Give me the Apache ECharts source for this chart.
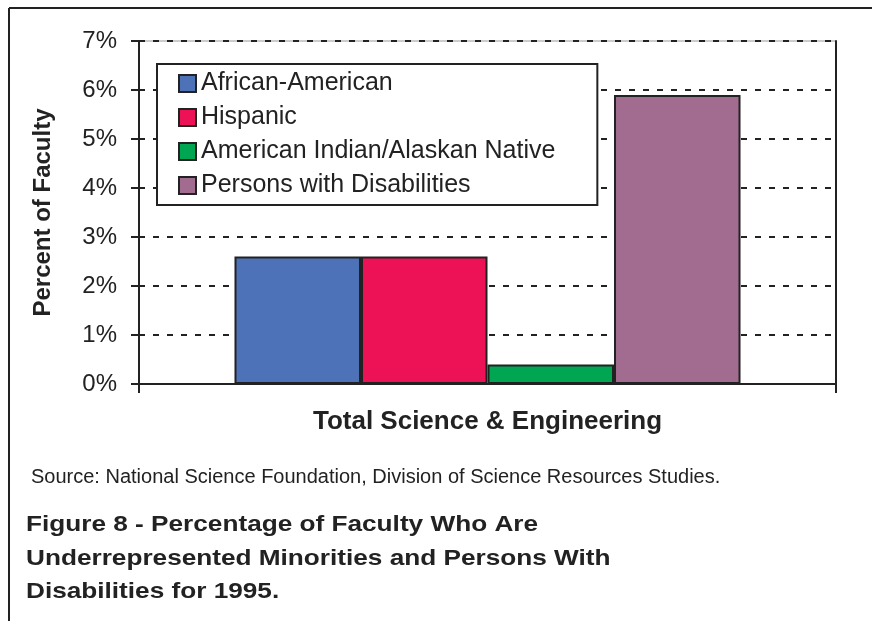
<!DOCTYPE html>
<html>
<head>
<meta charset="utf-8">
<script src="https://cdn.jsdelivr.net/npm/echarts@6/dist/echarts.min.js"></script>
<style>
  html, body { margin: 0; padding: 0; background: #fff; }
  #chart { width: 872px; height: 621px; }
</style>
</head>
<body>
<div id="chart"></div>
<script>
// ---- data ----
const categories = ['Total Science & Engineering'];
const seriesNames = ['African-American', 'Hispanic', 'American Indian/Alaskan Native', 'Persons with Disabilities'];
const africanAmerican = [2.6];
const hispanic = [2.6];
const americanIndian = [0.4];
const disabilities = [5.9];
const yTicks = [0, 1, 2, 3, 4, 5, 6, 7];
const sourceText = 'Source: National Science Foundation, Division of Science Resources Studies.';
const captionLines = [
  'Figure 8 - Percentage of Faculty Who Are',
  'Underrepresented Minorities and Persons With',
  'Disabilities for 1995.'
];
const yAxisTitle = 'Percent of Faculty';

// ---- styling ----
const colors = ['#4E72B8', '#ED1256', '#00A651', '#A26C91'];
const seriesValues = [africanAmerican, hispanic, americanIndian, disabilities];
const ink = '#222';
const font = 'Arial, "Liberation Sans", Helvetica, sans-serif';

const chart = echarts.init(document.getElementById('chart'), null, { renderer: 'canvas' });

const series = seriesNames.map((name, i) => ({
  name: name,
  type: 'bar',
  data: seriesValues[i],
  barGap: '0%',
  barCategoryGap: '27.4%',
  itemStyle: { color: colors[i], borderColor: ink, borderWidth: 2 },
  emphasis: { disabled: true },
  animation: false
}));

const graphics = [
  { type: 'line', shape: { x1: 9, y1: 8, x2: 872, y2: 8 }, style: { stroke: ink, lineWidth: 2 } },
  { type: 'line', shape: { x1: 9, y1: 8, x2: 9, y2: 621 }, style: { stroke: ink, lineWidth: 2 } },
  { type: 'text', left: 31, top: 467, style: { text: sourceText, font: '20px ' + font, fill: ink } }
];
captionLines.forEach((line, i) => {
  graphics.push({ type: 'text', x: 26, y: 514 + i * 33.5, scaleX: 1.19, style: { text: line, font: 'bold 22px ' + font, fill: ink, textBaseline: 'top' } });
});

chart.setOption({
  backgroundColor: '#fff',
  animation: false,
  grid: { left: 139, top: 41, width: 697, height: 343, show: true, borderColor: '#999', borderWidth: 1, backgroundColor: 'transparent' },
  legend: {
    orient: 'vertical',
    left: 157,
    top: 64,
    itemWidth: 17,
    itemHeight: 17,
    itemGap: 9,
    padding: [7, 42, 7, 21],
    backgroundColor: '#fff',
    borderColor: ink,
    borderWidth: 2,
    borderRadius: 0,
    icon: 'rect',
    selectedMode: false,
    textStyle: { fontFamily: font, fontSize: 25, color: ink },
    data: seriesNames
  },
  xAxis: [{
    type: 'category',
    data: categories,
    axisLine: { lineStyle: { color: ink, width: 2 } },
    axisTick: { show: true, length: 9, lineStyle: { color: ink, width: 2 } },
    axisLabel: { margin: 25, fontFamily: font, fontSize: 26, fontWeight: 'bold', color: ink }
  }],
  yAxis: [{
    type: 'value',
    min: 0,
    max: 7,
    interval: 1,
    name: yAxisTitle,
    nameLocation: 'middle',
    nameGap: 84,
    nameTextStyle: { fontFamily: font, fontSize: 24, fontWeight: 'bold', color: ink },
    axisLine: { show: true, lineStyle: { color: ink, width: 2 } },
    axisTick: { show: true, length: 8, lineStyle: { color: ink, width: 2 } },
    axisLabel: { margin: 22, fontFamily: font, fontSize: 24, color: ink, formatter: v => (yTicks.includes(v) ? v + '%' : '') },
    splitLine: { show: true, lineStyle: { color: ink, width: 2, type: [6, 8] } }
  }, {
    type: 'value',
    position: 'right',
    min: 0,
    max: 7,
    interval: 1,
    axisLine: { show: true, lineStyle: { color: ink, width: 2 } },
    axisTick: { show: false },
    axisLabel: { show: false },
    splitLine: { show: false }
  }],
  series: series,
  graphic: graphics
});
</script>
</body>
</html>
